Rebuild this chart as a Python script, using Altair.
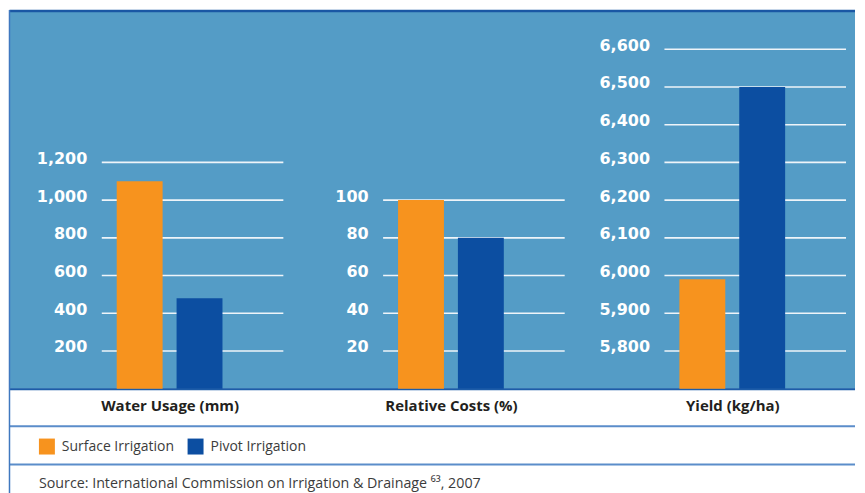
import altair as alt
import pandas as pd

# ---------------- data ----------------
categories = ["Water Usage (mm)", "Relative Costs (%)", "Yield (kg/ha)"]
series = ["Surface Irrigation", "Pivot Irrigation"]
surface_values = [1100, 100, 5990]
pivot_values = [480, 80, 6500]
tick_values = [
    [200, 400, 600, 800, 1000, 1200],
    [20, 40, 60, 80, 100],
    [5800, 5900, 6000, 6100, 6200, 6300, 6400, 6500, 6600],
]
axis_domains = [[0, 2000], [0, 200], [5700, 6700]]
source_text = "Source: International Commission on Irrigation & Drainage \u2076\u00b3, 2007"

# ---------------- style ----------------
BG = "#549cc6"
ORANGE = "#f7931e"
NAVY = "#0c4ea1"
GRID = "#eef4f9"
W, H, GAP = 182, 378, 100
LEFT, RIGHT = -92.5, 755

one = alt.Data(values=[{"k": 1}])


def deco_rule(x, x2, y, y2, color, width):
    return alt.Chart(one).mark_rule(color=color, strokeWidth=width).encode(
        x=alt.value(x), x2=alt.value(x2), y=alt.value(y), y2=alt.value(y2)
    )


def panel(i):
    df = pd.DataFrame({
        "series": series,
        "value": [surface_values[i], pivot_values[i]],
        "base": [axis_domains[i][0]] * 2,
    })
    grid_df = pd.DataFrame({"tick": tick_values[i]})
    yscale = alt.Scale(domain=axis_domains[i], zero=False, nice=False)
    yaxis = alt.Axis(
        values=tick_values[i], format=",d", grid=False, ticks=False, domain=False,
        labelPadding=15, labelFont="DejaVu Sans", labelFontWeight="bold",
        labelFontSize=16, labelColor="white", labelOffset=-4, title=None, zindex=1,
    )
    xaxis = alt.Axis(
        labels=False, ticks=False, domain=False, grid=False, title=categories[i],
        titleX=68, titleY=17, titleAlign="center", titleBaseline="middle",
        titleFont="Open Sans", titleFontWeight="bold", titleFontSize=15,
        titleColor="#231f20", zindex=1,
    )
    legend = alt.Legend(
        orient="none", legendX=-63, legendY=428, direction="horizontal", title=None,
        symbolType="square", symbolSize=256, symbolStrokeWidth=0,
        labelFont="Open Sans", labelFontSize=14, labelColor="#3c3c3c",
        labelOffset=7, columnPadding=13, padding=0, labelLimit=300,
    )
    grid = alt.Chart(grid_df).mark_rule(color=GRID, strokeWidth=1.6).encode(
        y=alt.Y("tick:Q", scale=yscale, axis=yaxis),
        x=alt.value(0), x2=alt.value(W),
    )
    bars = alt.Chart(df).mark_bar().encode(
        x=alt.X("series:N",
                scale=alt.Scale(domain=series, paddingInner=0.2333,
                                paddingOuter=0.6333, align=0.197),
                axis=xaxis),
        y=alt.Y("value:Q", scale=yscale, axis=yaxis),
        y2="base:Q",
        color=alt.Color("series:N", scale=alt.Scale(domain=series, range=[ORANGE, NAVY]),
                        legend=legend),
    )
    layers = [grid, bars]
    if i == 0:
        bg = alt.Chart(one).mark_rect(color=BG).encode(
            x=alt.value(LEFT), x2=alt.value(RIGHT), y=alt.value(0), y2=alt.value(H)
        )
        top_line = deco_rule(LEFT, RIGHT, -0.5, -0.5, "#1a57a4", 2.5)
        bottom_line = deco_rule(LEFT, RIGHT, H + 0.5, H + 0.5, "#1d5ca8", 2)
        sep1 = deco_rule(LEFT, RIGHT, 415.7, 415.7, "#5b8dca", 2)
        sep2 = deco_rule(LEFT, RIGHT, 454, 454, "#5b8dca", 2)
        left_line = deco_rule(LEFT, LEFT, -1.5, 483, "#3f78bf", 1.5)
        src = alt.Chart(one).mark_text(
            align="left", baseline="middle", font="Open Sans", fontSize=14.3,
            color="#3c3c3c",
        ).encode(x=alt.value(-63), y=alt.value(474), text=alt.value(source_text))
        layers = [bg, top_line, bottom_line, sep1, sep2, left_line, grid, bars, src]
    return alt.layer(*layers).properties(width=W, height=H)


chart = alt.hconcat(panel(0), panel(1), panel(2), spacing=GAP, bounds="flush").properties(
    padding=0, background="white"
).configure_view(stroke=None)

chart.save("out.html", embed_options={"renderer": "svg", "actions": False})
